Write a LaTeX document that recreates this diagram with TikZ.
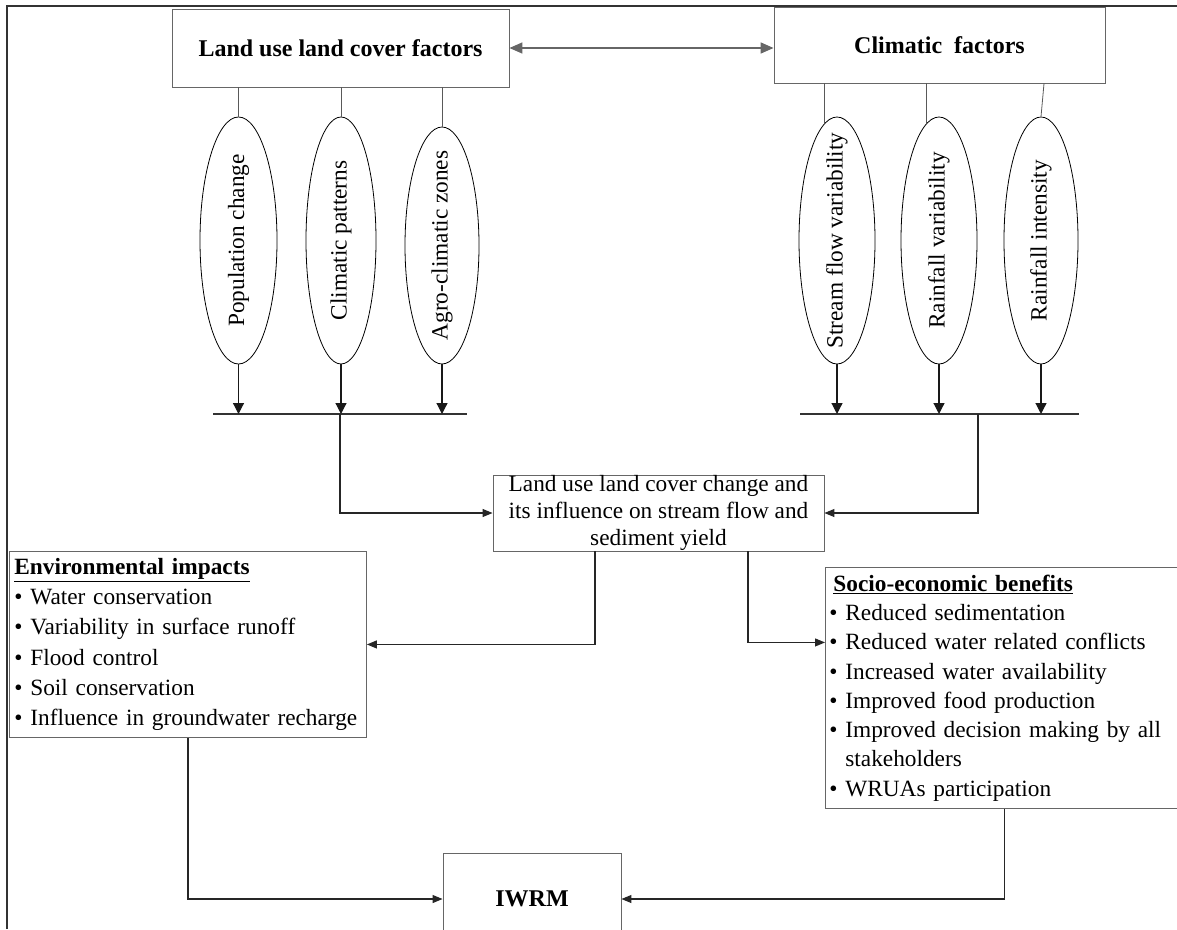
\documentclass[tikz,border=0pt]{standalone}
\usepackage{fontspec}
\setmainfont{Liberation Serif}
\usepackage{graphicx}
\usetikzlibrary{arrows.meta,shapes.geometric,calc}

\begin{document}
\begin{tikzpicture}[x=1pt,y=-1pt,
  box/.style={draw=black!60, line width=0.9pt, rectangle, inner sep=0pt},
  oval/.style={draw=black, line width=0.8pt, ellipse, inner sep=0pt, minimum height=247pt},
  tie/.style={draw=black!65, line width=0.8pt},
  arr/.style={draw=black!85, line width=1.1pt, -{Triangle[length=10pt,width=8pt]}},
  down/.style={draw=black!90, line width=1.2pt, -{Triangle[length=11pt,width=11pt]}},
  dbl/.style={draw=black!60, line width=1.6pt, {Triangle[length=13pt,width=11pt]}-{Triangle[length=13pt,width=11pt]}},
  bar/.style={draw=black!80, line width=1.3pt},
  frame/.style={draw=black!80, line width=1.2pt},
  big/.style={font=\fontsize{23.3}{30.2}\selectfont},
  hd/.style={font=\fontsize{24}{28}\selectfont\bfseries},
]
\useasboundingbox (0,0) rectangle (1177,929);

% outer frame
\draw[frame] (7,929) -- (7,6) -- (1177,6);

% top boxes
\node[box, hd, minimum width=337pt, minimum height=78pt] (lulc) at (340.5,48) {Land use land cover factors};
\node[box, hd, minimum width=331pt, minimum height=76pt] (clim) at (939.5,45) {Climatic~~factors};
\draw[dbl] (lulc.east) -- (lulc.east -| clim.west);

% ellipses left
\node[oval, minimum width=77pt, label={[big]center:{\rotatebox{90}{Population change}}}] (pop) at (238.5,240.5) {};
\node[oval, minimum width=70pt, label={[big]center:{\rotatebox{90}{Climatic patterns}}}] (cpat) at (341,240.5) {};
\node[oval, minimum width=74pt, minimum height=237pt, label={[big]center:{\rotatebox{90}{Agro-climatic zones}}}] (agro) at (442,245.5) {};

% ellipses right
\node[oval, minimum width=76pt, label={[big]center:{\rotatebox{90}{Stream flow variability}}}] (sfv) at (837,240.5) {};
\node[oval, minimum width=76pt, label={[big]center:{\rotatebox{90}{Rainfall variability}}}] (rv) at (939,240.5) {};
\node[oval, minimum width=74pt, label={[big]center:{\rotatebox{90}{Rainfall intensity}}}] (ri) at (1041,240.5) {};

\draw[tie] (pop.north) -- (pop.north |- lulc.south);
\draw[tie] (cpat.north) -- (cpat.north |- lulc.south);
\draw[tie] (agro.north) -- (agro.north |- lulc.south);
\draw[tie] (sfv.96) -- (sfv.96 |- clim.south);
\draw[tie] (rv.96) -- (rv.96 |- clim.south);
\draw[tie] (ri.north) -- ([xshift=3pt]ri.north |- clim.south);

% bars
\coordinate (lbl) at (213,414);
\coordinate (lbr) at (467,414);
\coordinate (rbl) at (800,414);
\coordinate (rbr) at (1079,414);
\coordinate (lj) at (340,414);
\coordinate (rj) at (978,414);
\draw[bar] (lbl) -- (lbr);
\draw[bar] (rbl) -- (rbr);

\draw[down] (pop.south) -- (pop.south |- lbl);
\draw[down] (cpat.south) -- (cpat.south |- lbl);
\draw[down] (agro.south) -- (agro.south |- lbl);
\draw[down] (sfv.south) -- (sfv.south |- rbl);
\draw[down] (rv.south) -- (rv.south |- rbl);
\draw[down] (ri.south) -- (ri.south |- rbl);

% centre box
\node[box, font=\fontsize{23.3}{27}\selectfont, align=center, minimum width=331pt, minimum height=76pt] (center) at (658.5,513)
  {Land use land cover change and\\its influence on stream flow and\\sediment yield};
\draw[arr] (lj) |- (center.west);
\draw[arr] (rj) |- (center.east);

% impact boxes
\node[box, big, anchor=north west, align=left, inner xsep=5pt, text width=347pt, minimum height=186pt] (env) at (9,551)
  {\underline{\textbf{Environmental impacts}}\\
   • Water conservation\\
   • Variability in surface runoff\\
   • Flood control\\
   • Soil conservation\\
   • Influence in groundwater recharge};

\node[box, font=\fontsize{23.3}{29.3}\selectfont, anchor=north west, align=left, inner xsep=4pt, text width=350pt, minimum height=241pt] (socio) at (825,567)
  {\hspace*{4pt}\underline{\textbf{Socio-economic benefits}}\\
   • Reduced sedimentation\\
   • Reduced water related conflicts\\
   • Increased water availability\\
   • Improved food production\\
   • Improved decision making by all\\
   \hphantom{•\ }stakeholders\\
   • WRUAs participation};

\coordinate (cb1) at ([xshift=-63.5pt]center.south);
\coordinate (cb2) at ([xshift=89.5pt]center.south);
\draw[arr] (cb1) |- (env.east);
\draw[arr] (cb2) |- ([yshift=45.5pt]socio.west);

% IWRM
\node[box, hd, minimum width=178pt, minimum height=92pt] (iwrm) at (532,899) {IWRM};
\draw[arr] (env.south) |- (iwrm.west);
\draw[arr] (socio.south) |- (iwrm.east);

\end{tikzpicture}
\end{document}
